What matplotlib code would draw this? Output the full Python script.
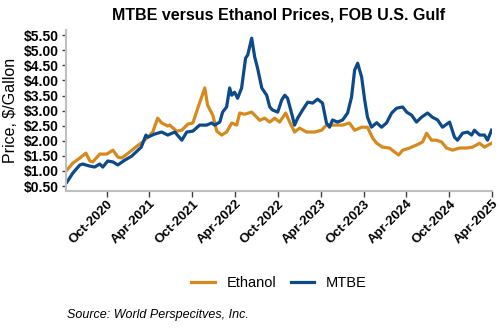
import matplotlib
matplotlib.use("Agg")
import matplotlib.pyplot as plt
import matplotlib.dates as mdates
import pandas as pd

ethanol_dates = [
    "2020-04-14", "2020-05-09", "2020-06-08", "2020-07-04", "2020-07-21", "2020-08-02",
    "2020-09-01", "2020-10-01", "2020-10-27", "2020-11-17", "2020-12-04", "2021-01-07",
    "2021-02-06", "2021-03-03", "2021-03-25", "2021-04-15", "2021-05-06", "2021-05-23",
    "2021-06-18", "2021-06-26", "2021-07-26", "2021-08-17", "2021-09-11", "2021-10-03",
    "2021-10-24", "2021-11-23", "2021-12-05", "2021-12-27", "2022-01-13", "2022-02-03",
    "2022-02-24", "2022-03-18", "2022-04-08", "2022-04-21", "2022-05-12", "2022-06-11",
    "2022-06-24", "2022-07-15", "2022-08-05", "2022-08-27", "2022-09-17", "2022-10-08",
    "2022-11-03", "2022-11-20", "2022-12-11", "2023-01-01", "2023-01-31", "2023-03-06",
    "2023-04-05", "2023-04-26", "2023-05-31", "2023-07-04", "2023-08-02", "2023-08-24",
    "2023-09-23", "2023-10-18", "2023-11-09", "2023-11-26", "2023-12-21", "2024-01-20",
    "2024-02-10", "2024-02-28", "2024-03-16", "2024-04-14", "2024-05-14", "2024-06-09",
    "2024-06-26", "2024-07-17", "2024-08-07", "2024-08-29", "2024-09-19", "2024-10-15",
    "2024-11-14", "2024-12-13", "2025-01-08", "2025-02-07", "2025-02-28", "2025-03-30",
]
ethanol = [
    1.03, 1.26, 1.43, 1.59, 1.33, 1.30,
    1.56, 1.56, 1.69, 1.46, 1.43, 1.63,
    1.82, 1.96, 2.12, 2.29, 2.75, 2.59,
    2.49, 2.52, 2.32, 2.35, 2.55, 2.59,
    3.08, 3.75, 3.18, 2.85, 2.32, 2.19,
    2.29, 2.59, 2.52, 2.92, 2.88, 2.95,
    2.85, 2.68, 2.75, 2.62, 2.75, 2.62,
    2.92, 2.62, 2.29, 2.42, 2.29, 2.29,
    2.35, 2.52, 2.52, 2.52, 2.59, 2.35,
    2.45, 2.45, 2.09, 1.92, 1.79, 1.76,
    1.63, 1.53, 1.69, 1.76, 1.86, 1.96,
    2.25, 2.02, 2.02, 1.96, 1.76, 1.69,
    1.76, 1.76, 1.79, 1.92, 1.79, 1.92,
]

mtbe_dates = [
    "2020-04-14", "2020-05-09", "2020-06-08", "2020-06-20", "2020-07-21", "2020-08-10",
    "2020-09-01", "2020-09-14", "2020-10-05", "2020-10-27", "2020-11-17", "2020-12-17",
    "2021-01-15", "2021-02-25", "2021-03-17", "2021-03-25", "2021-04-22", "2021-05-23",
    "2021-06-18", "2021-07-18", "2021-08-17", "2021-09-07", "2021-10-03", "2021-11-01",
    "2021-12-01", "2021-12-22", "2022-01-04", "2022-01-26", "2022-02-07", "2022-02-24",
    "2022-03-09", "2022-03-18", "2022-03-30", "2022-04-12", "2022-04-29", "2022-05-16",
    "2022-05-25", "2022-06-11", "2022-06-24", "2022-07-06", "2022-07-24", "2022-08-14",
    "2022-08-27", "2022-09-08", "2022-09-30", "2022-10-17", "2022-10-30", "2022-11-11",
    "2022-11-28", "2022-12-11", "2022-12-24", "2023-01-14", "2023-02-05", "2023-02-26",
    "2023-03-19", "2023-04-09", "2023-04-26", "2023-05-09", "2023-05-22", "2023-06-12",
    "2023-07-04", "2023-07-25", "2023-08-11", "2023-08-24", "2023-09-06", "2023-09-23",
    "2023-10-06", "2023-10-18", "2023-11-04", "2023-11-26", "2023-12-17", "2024-01-07",
    "2024-01-29", "2024-02-19", "2024-03-16", "2024-04-02", "2024-04-23", "2024-05-14",
    "2024-06-04", "2024-06-30", "2024-07-21", "2024-08-12", "2024-09-02", "2024-10-02",
    "2024-10-23", "2024-11-05", "2024-11-26", "2024-12-18", "2025-01-04", "2025-01-16",
    "2025-02-07", "2025-02-28", "2025-03-13", "2025-03-30",
]
mtbe = [
    0.63, 0.93, 1.20, 1.23, 1.16, 1.13,
    1.23, 1.13, 1.33, 1.30, 1.20, 1.36,
    1.49, 1.79, 2.19, 2.12, 2.22, 2.29,
    2.19, 2.29, 2.02, 2.29, 2.32, 2.52,
    2.52, 2.59, 2.52, 2.62, 2.95, 3.12,
    3.75, 3.51, 3.61, 3.41, 3.75, 4.74,
    4.84, 5.40, 4.77, 4.41, 3.75, 3.51,
    3.12, 3.02, 2.95, 3.35, 3.51, 3.41,
    2.92, 2.52, 2.75, 3.02, 3.28, 3.25,
    3.38, 3.25, 2.59, 2.45, 2.69, 2.62,
    2.69, 2.92, 3.45, 4.34, 4.57, 4.11,
    3.35, 2.78, 2.45, 2.60, 2.45, 2.59,
    2.92, 3.08, 3.12, 2.95, 2.85, 2.62,
    2.78, 2.92, 2.78, 2.69, 2.45, 2.62,
    2.12, 2.02, 2.25, 2.29, 2.19, 2.35,
    2.19, 2.19, 2.02, 2.35,
]

y_ticks = [0.5, 1.0, 1.5, 2.0, 2.5, 3.0, 3.5, 4.0, 4.5, 5.0, 5.5]
x_ticks = ["2020-10-01", "2021-04-01", "2021-10-01", "2022-04-01", "2022-10-01",
           "2023-04-01", "2023-10-01", "2024-04-01", "2024-10-01", "2025-04-01"]

ETH_COLOR = "#D68A1E"
MTBE_COLOR = "#0D4A8A"

plt.rcParams["font.family"] = ["Liberation Sans", "DejaVu Sans"]

fig = plt.figure(figsize=(5, 3.3), dpi=100)
ax = fig.add_axes([0.132, 0.422, 0.852, 0.487])

ax.plot(pd.to_datetime(ethanol_dates), ethanol, color=ETH_COLOR, lw=2.3, label="Ethanol")
ax.plot(pd.to_datetime(mtbe_dates), mtbe, color=MTBE_COLOR, lw=2.3, label="MTBE")

ax.set_xlim(pd.Timestamp("2020-04-10"), pd.Timestamp("2025-04-01"))
ax.set_ylim(0.345, 5.67)
ax.set_yticks(y_ticks)
ax.set_yticklabels([f"${v:.2f}" for v in y_ticks])
ax.set_xticks(pd.to_datetime(x_ticks))
ax.xaxis.set_major_formatter(mdates.DateFormatter("%b-%Y"))

for s in ["top", "right"]:
    ax.spines[s].set_visible(False)
for s in ["left", "bottom"]:
    ax.spines[s].set_color("#BFBFBF")
    ax.spines[s].set_linewidth(1.5)

ax.tick_params(axis="y", length=3, width=1, color="#404040", labelsize=10, pad=2)
ax.tick_params(axis="x", length=4, width=1, color="#404040", labelsize=9.5, pad=1)
for lab in ax.get_yticklabels():
    lab.set_fontweight("bold")
for lab in ax.get_xticklabels():
    lab.set_rotation(45)
    lab.set_ha("right")
    lab.set_rotation_mode("anchor")
    lab.set_fontweight("bold")

ax.set_ylabel("Price, $/Gallon", fontsize=11.5, labelpad=4)
fig.text(0.558, 0.955, "MTBE versus Ethanol Prices, FOB U.S. Gulf",
         ha="center", va="center", fontsize=11.5, fontweight="bold")

fig.legend(loc="center", bbox_to_anchor=(0.558, 0.142), ncol=2, frameon=False,
           fontsize=10.5, handlelength=1.6, columnspacing=1.0, handletextpad=0.8)

fig.text(0.134, 0.045, "Source: World Perspecitves, Inc.", fontsize=9,
         style="italic", ha="left", va="center")

fig.savefig("out.png", dpi=100)
